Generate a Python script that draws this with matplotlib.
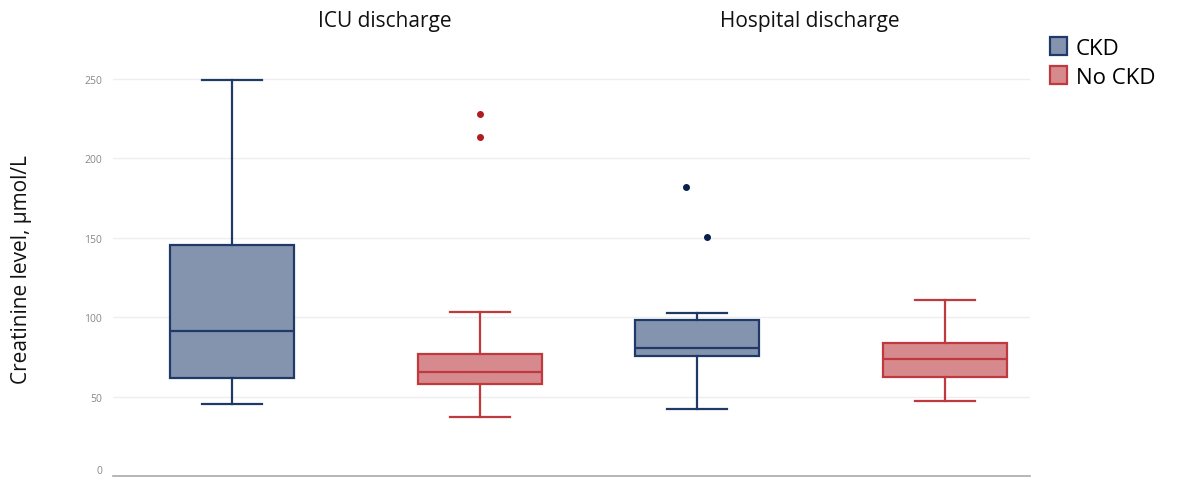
import matplotlib
matplotlib.use("Agg")
import matplotlib.pyplot as plt
from matplotlib.patches import Patch

plt.rcParams['font.family'] = ['Open Sans', 'DejaVu Sans']

groups = ["ICU discharge", "Hospital discharge"]
series = ["CKD", "No CKD"]
# stats: whislo, q1, med, q3, whishi, outliers
icu_ckd = dict(whislo=45, q1=61.5, med=91, q3=145.5, whishi=249, fliers=[])
icu_nockd = dict(whislo=37, q1=58, med=65.5, q3=76.5, whishi=103, fliers=[228, 213.5])
hosp_ckd = dict(whislo=42, q1=75.5, med=80.5, q3=98, whishi=102.5, fliers=[182, 150.5])
hosp_nockd = dict(whislo=47, q1=62, med=73.5, q3=84, whishi=111, fliers=[])
y_ticks = [0, 50, 100, 150, 200, 250]

positions = [0, 1, 1.875, 2.875]
flier_jitter = [[], [0, 0], [-0.045, 0.04], []]
stats = [icu_ckd, icu_nockd, hosp_ckd, hosp_nockd]
edge = {"CKD": "#1F3A68", "No CKD": "#C0393F"}
fill = {"CKD": "#8594AE", "No CKD": "#D78A8E"}
flier_c = {"CKD": "#0B1F4D", "No CKD": "#B01C22"}
ser_of = ["CKD", "No CKD", "CKD", "No CKD"]

fig = plt.figure(figsize=(11.81, 4.81), dpi=100)
ax = fig.add_axes([113/1181, 4/481, (1030-113)/1181, 437/481])

for pos, st, s, jit in zip(positions, stats, ser_of, flier_jitter):
    ax.bxp([st], positions=[pos], widths=0.5, patch_artist=True, showfliers=False,
           capwidths=[0.24],
           boxprops=dict(facecolor=fill[s], edgecolor=edge[s], linewidth=1.6),
           medianprops=dict(color=edge[s], linewidth=1.6),
           whiskerprops=dict(color=edge[s], linewidth=1.6),
           capprops=dict(color=edge[s], linewidth=1.6))
    if st["fliers"]:
        ax.plot([pos + j for j in jit], st["fliers"], 'o', markersize=4,
                color=flier_c[s], linestyle='none')

ax.set_xlim(-0.48, 3.218)
ax.set_ylim(0, 275)
ax.set_yticks(y_ticks)
ax.set_yticklabels([str(v) for v in y_ticks], color="#888888", fontsize=7.5)
ax.get_yticklabels()[0].set_va('bottom')
ax.set_xticks([])
ax.tick_params(axis='y', length=0, pad=8)
ax.grid(axis='y', color="#EEEEEE", linewidth=1)
ax.set_axisbelow(True)
for sp in ["top", "right", "left"]:
    ax.spines[sp].set_visible(False)
ax.spines["bottom"].set_color("#AAAAAA")
ax.spines["bottom"].set_linewidth(1.2)

fig.text(385/1181, 1 - 22/481, groups[0], ha='center', va='center', fontsize=15, color="#111111")
fig.text(810/1181, 1 - 22/481, groups[1], ha='center', va='center', fontsize=15, color="#111111")
fig.text(22/1181, 1 - 270/481, "Creatinine level, μmol/L", rotation=90, ha='center', va='center',
         fontsize=15, color="#111111")

handles = [Patch(facecolor=fill[s], edgecolor=edge[s], linewidth=1.6, label=s) for s in series]
fig.legend(handles=handles, loc='upper left', bbox_to_anchor=(1050/1181, 1 - 38/481),
           frameon=False, fontsize=16, handlelength=0.75, handleheight=0.85,
           handletextpad=0.4, labelspacing=0.35, borderaxespad=0, borderpad=0)

fig.savefig("out.png", dpi=100)
